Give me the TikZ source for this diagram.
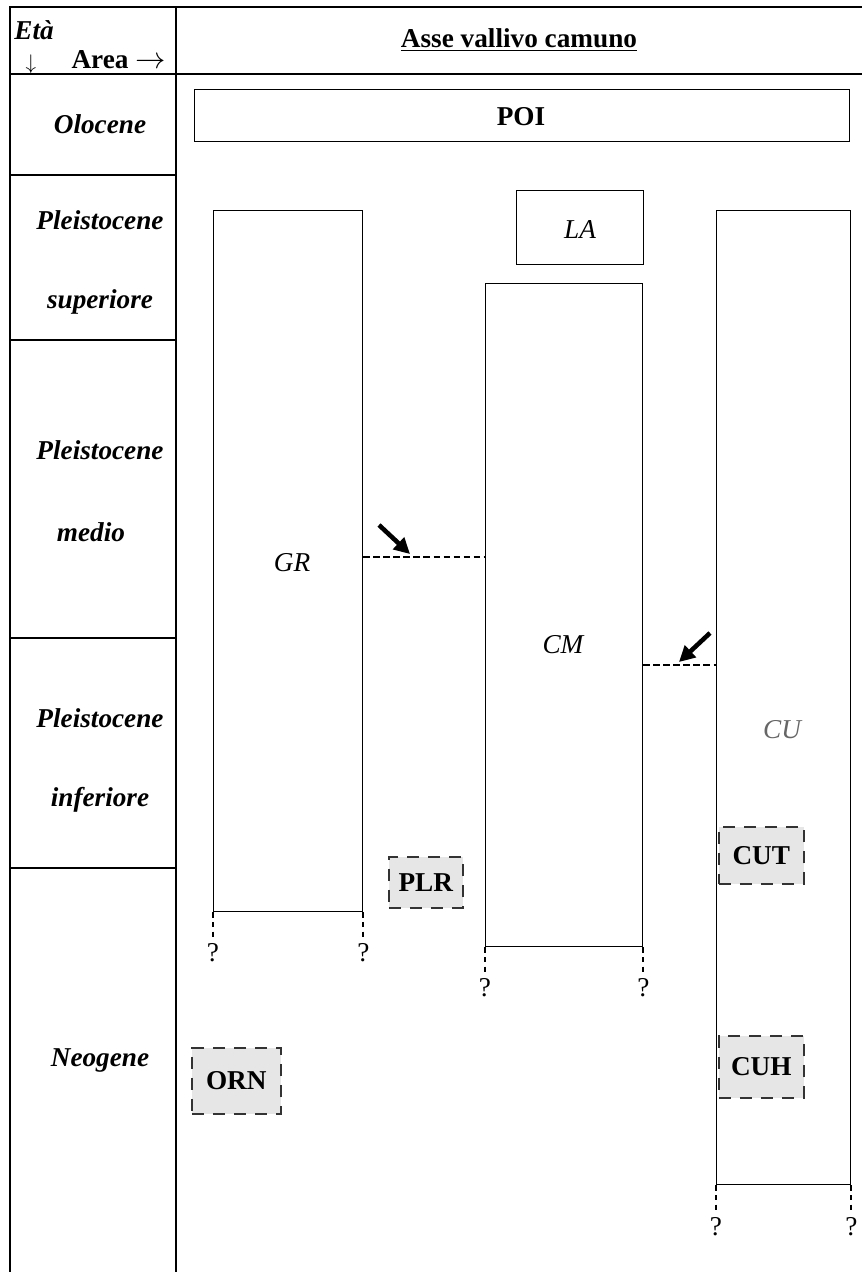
\documentclass[tikz,border=0pt]{standalone}
\usepackage{fontspec}
\setmainfont{Liberation Serif}
\usetikzlibrary{arrows.meta}
\definecolor{boxgrey}{HTML}{E6E6E6}

\begin{document}
\begin{tikzpicture}[x=0.02cm,y=-0.02cm,font=\fontsize{15.5}{18}\selectfont]
			\tikzstyle{column} = [draw=black,line width=0.8pt,inner sep=0pt,anchor=north west]
			\tikzstyle{unit} = [draw=black!80,fill=boxgrey,line width=0.9pt,dash pattern=on 7pt off 5pt,inner sep=0pt,anchor=north west,font=\fontsize{15.5}{18}\selectfont\bfseries]
			\tikzstyle{age} = [font=\fontsize{15.5}{18}\selectfont\bfseries\itshape]
			\tikzstyle{contact} = [dash pattern=on 3.5pt off 2.2pt,line width=0.9pt]
			\tikzstyle{open} = [dash pattern=on 3pt off 2.5pt,line width=1.1pt]
			\tikzstyle{push} = [-{Triangle[length=9pt,width=9pt]},line width=2.6pt]
			\useasboundingbox (0,0) rectangle (862,1272);
			% frame of the table
			\draw[line width=1pt] (10,1272) -- (10,7) -- (862,7);
			\draw[line width=1pt] (176,7) -- (176,1272);
			\draw[line width=1pt] (10,74) -- (862,74);
			\draw[line width=0.8pt] (10,175) -- (176,175);
			\draw[line width=0.8pt] (10,340) -- (176,340);
			\draw[line width=0.8pt] (10,638) -- (176,638);
			\draw[line width=0.8pt] (10,868) -- (176,868);
			% header
			\node[age,inner sep=0pt,anchor=base west] (eta) at (14,39) {Età};
			\node[inner sep=0pt,anchor=base] (down) at (31,69) {\fontsize{13}{14}\selectfont$\downarrow$};
			\node[font=\fontsize{15.5}{18}\selectfont\bfseries,inner sep=0pt,anchor=base east] (area) at (166,68) {Area \fontsize{17}{18}\selectfont$\rightarrow$};
			\node[font=\fontsize{15.5}{18}\selectfont\bfseries] (asse) at (519,40) {\underline{Asse vallivo camuno}};
			% ages
			\node[age] (olo) at (100,124) {Olocene};
			\node[age] (ps1) at (100,220) {Pleistocene};
			\node[age] (ps2) at (100,302) {superiore};
			\node[age] (pm1) at (100,450) {Pleistocene};
			\node[age] (pm2) at (91,532) {medio};
			\node[age] (pi1) at (100,718) {Pleistocene};
			\node[age] (pi2) at (100,800) {inferiore};
			\node[age] (neo) at (100,1060) {Neogene};
			% columns
			\node[column,minimum width=655*0.02cm,minimum height=52*0.02cm] (POI) at (194,89) {};
			\node[font=\fontsize{15.5}{18}\selectfont\bfseries] (poilab) at (521,117) {POI};
			\node[column,minimum width=149*0.02cm,minimum height=701*0.02cm] (GR) at (213,210) {};
			\node[column,minimum width=127*0.02cm,minimum height=74*0.02cm] (LA) at (516,190) {};
			\node[column,minimum width=157*0.02cm,minimum height=663*0.02cm] (CM) at (485,283) {};
			\node[column,minimum width=134*0.02cm,minimum height=974*0.02cm] (CU) at (716,210) {};
			\node[font=\fontsize{15.5}{18}\selectfont\itshape] (grlab) at (292,563) {GR};
			\node[font=\fontsize{15.5}{18}\selectfont\itshape] (lalab) at (580,230) {LA};
			\node[font=\fontsize{15.5}{18}\selectfont\itshape] (cmlab) at (563,645) {CM};
			\node[font=\fontsize{15.5}{18}\selectfont\itshape,text=black!60] (culab) at (782,730) {CU};
			% units with uncertain position
			\node[unit,minimum width=74*0.02cm,minimum height=51*0.02cm] (PLR) at (388,856) {PLR};
			\node[unit,minimum width=85*0.02cm,minimum height=57*0.02cm] (CUT) at (718,826) {CUT};
			\node[unit,minimum width=85*0.02cm,minimum height=62*0.02cm] (CUH) at (718,1035) {CUH};
			\node[unit,minimum width=89*0.02cm,minimum height=66*0.02cm] (ORN) at (191,1047) {ORN};
			% contacts
			\coordinate (grcm) at (0,557);
			\coordinate (cmcu) at (0,665);
			\draw[contact] (GR.east |- grcm) -- (CM.west |- grcm);
			\draw[contact] (CM.east |- cmcu) -- (CU.west |- cmcu);
			\coordinate (a1) at (379,525);
			\coordinate (a2) at (410,554);
			\coordinate (b1) at (710,633);
			\coordinate (b2) at (679,662);
			\draw[push] (a1) -- (a2);
			\draw[push] (b1) -- (b2);
			% open bases
			\draw[open] (GR.south west) -- ++(0,25) coordinate (gr1);
			\draw[open] (GR.south east) -- ++(0,25) coordinate (gr2);
			\draw[open] (CM.south west) -- ++(0,25) coordinate (cm1);
			\draw[open] (CM.south east) -- ++(0,25) coordinate (cm2);
			\draw[open] (CU.south west) -- ++(0,26) coordinate (cu1);
			\draw[open] (CU.south east) -- ++(0,26) coordinate (cu2);
			\node[below=0pt] (q1) at (gr1) {?};
			\node[below=0pt] (q2) at (gr2) {?};
			\node[below=0pt] (q3) at (cm1) {?};
			\node[below=0pt] (q4) at (cm2) {?};
			\node[below=0pt] (q5) at (cu1) {?};
			\node[below=0pt] (q6) at (cu2) {?};
			\end{tikzpicture}
\end{document}
